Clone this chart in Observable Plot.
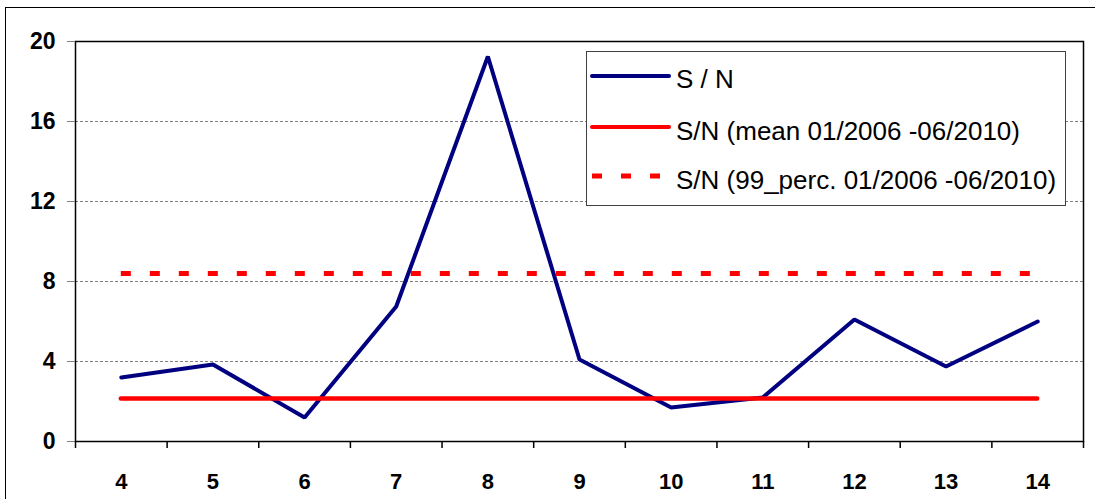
<!DOCTYPE html>
<html><head><meta charset="utf-8">
<script src="https://cdn.jsdelivr.net/npm/d3@7"></script>
<script src="https://cdn.jsdelivr.net/npm/@observablehq/plot@0.6"></script>
<style>
body{margin:0;background:#fff;}
#wrap{position:relative;width:1095px;height:499px;overflow:hidden;font-family:"Liberation Sans",Arial,sans-serif;}
#border{position:absolute;left:5px;top:7px;width:1200px;height:600px;border:1px solid #000;box-sizing:border-box;}
#chart{position:absolute;left:0;top:0;}
#legend{position:absolute;left:586px;top:51px;}
</style></head><body><div id="wrap"><div id="border"></div><div id="chart"></div><div id="legend"></div></div>
<script>
const categories = [4, 5, 6, 7, 8, 9, 10, 11, 12, 13, 14];
const snValues = [3.2, 3.85, 1.2, 6.75, 19.25, 4.1, 1.7, 2.2, 6.1, 3.75, 6.0];
const meanValue = 2.15;
const perc99Value = 8.4;
const yTicks = [0, 4, 8, 12, 16, 20];
const seriesNames = ["S / N", "S/N (mean 01/2006 -06/2010)", "S/N (99_perc. 01/2006 -06/2010)"];
const seriesColors = ["#000080", "#ff0000", "#ff0000"];

const rows = categories.map((c, i) => ({cat: c, sn: snValues[i]}));
const first = categories[0], last = categories[categories.length - 1];
const boundaries = categories.map(c => c - 0.5).concat([last + 0.5]);
const font = '"Liberation Sans", Arial, sans-serif';

const plot = Plot.plot({
  width: 1095, height: 499,
  marginLeft: 75, marginRight: 12, marginTop: 41, marginBottom: 58,
  style: {fontFamily: font, background: "transparent", color: "black", overflow: "visible"},
  x: {domain: [first - 0.5, last + 0.5]},
  y: {domain: [yTicks[0], yTicks[yTicks.length - 1]]},
  marks: [
    Plot.gridY(yTicks.slice(1, -1), {stroke: "#808080", strokeOpacity: 1, strokeDasharray: "3,2"}),
    Plot.line(rows, {x: "cat", y: "sn", stroke: seriesColors[0], strokeWidth: 4, strokeLinejoin: "miter", strokeLinecap: "round"}),
    Plot.ruleY([meanValue], {x1: first, x2: last, stroke: seriesColors[1], strokeWidth: 4.5, strokeLinecap: "round"}),
    Plot.ruleY([perc99Value], {x1: first, x2: last, stroke: seriesColors[2], strokeWidth: 5, strokeDasharray: "10,19"}),
    Plot.frame({stroke: "black", strokeWidth: 1.5}),
    Plot.axisY(yTicks, {tickSize: 8, stroke: "#808080", tickFormat: () => "", label: null}),
    Plot.axisY(yTicks, {tickSize: 0, tickPadding: 20, fontSize: 23, fontWeight: "bold", label: null}),
    Plot.axisX(boundaries, {tickSize: 7, stroke: "black", strokeWidth: 1.5, tickFormat: () => "", label: null}),
    Plot.axisX(categories, {tickSize: 0, tickPadding: 32, fontSize: 22, fontWeight: "bold", label: null})
  ]
});
document.getElementById("chart").appendChild(plot);

// Legend
const lg = d3.select("#legend").append("svg").attr("width", 481).attr("height", 156)
  .style("font-family", font);
lg.append("rect").attr("x", 0.5).attr("y", 0.5).attr("width", 479).attr("height", 154)
  .attr("fill", "#fff").attr("stroke", "#404040").attr("stroke-width", 1);
const lineY = [25, 76, 125];
const textY = [37, 89, 138];
seriesNames.forEach((name, i) => {
  const ln = lg.append("line").attr("x1", 6).attr("x2", 83).attr("y1", lineY[i]).attr("y2", lineY[i])
    .attr("stroke", seriesColors[i]);
  if (i === 2) ln.attr("stroke-width", 5).attr("stroke-dasharray", "10,19");
  else ln.attr("stroke-width", 4).attr("stroke-linecap", "round");
  lg.append("text").attr("x", 90).attr("y", textY[i]).attr("font-size", 26).attr("fill", "black").text(name);
});
</script>
</body></html>
